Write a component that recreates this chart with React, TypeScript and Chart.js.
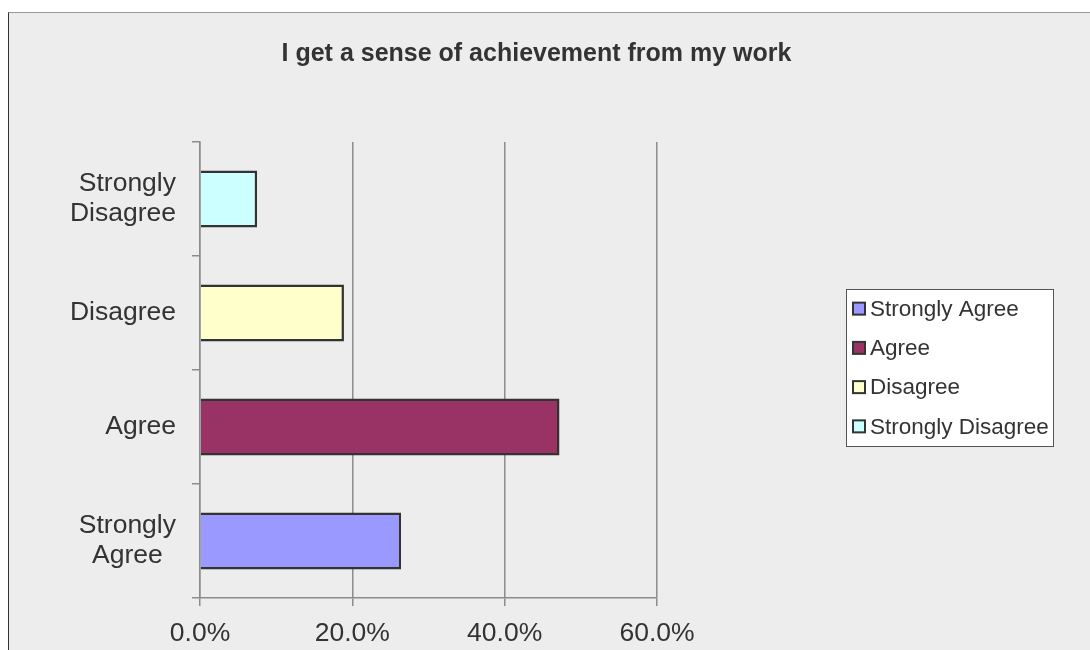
import React, { useEffect, useRef } from 'react';
import { Chart, registerables } from 'chart.js';

Chart.register(...registerables);

// ---- Data ----
const legendLabels = ['Strongly Agree', 'Agree', 'Disagree', 'Strongly Disagree'];
const axisLabels: (string | string[])[] = [['Strongly', 'Agree\u2002'], 'Agree', 'Disagree', ['Strongly', 'Disagree']];
const values = [26.4, 47.2, 18.9, 7.5];
const barColors = ['#9999FF', '#993366', '#FFFFCC', '#CCFFFF'];
const xMin = 0;
const xMax = 60;
const xStep = 20;
const titleText = 'I get a sense of achievement from my work';

const FONT = '"Liberation Sans", Arial, Helvetica, sans-serif';
const TEXT = '#333333';
const GRID = '#8c8c8c';

const boxLegend = {
  id: 'boxLegend',
  afterDraw(chart: any) {
    const ctx = chart.ctx as CanvasRenderingContext2D;
    const bx = 837, by = 276, bw = 207, bh = 157;
    ctx.save();
    ctx.fillStyle = '#ffffff';
    ctx.fillRect(bx, by, bw, bh);
    ctx.strokeStyle = '#555555';
    ctx.lineWidth = 1;
    ctx.strokeRect(bx + 0.5, by + 0.5, bw, bh);
    const rowH = bh / legendLabels.length;
    ctx.font = `22.5px ${FONT}`;
    ctx.textBaseline = 'middle';
    ctx.textAlign = 'left';
    legendLabels.forEach((label, i) => {
      const cy = by + rowH * (i + 0.5);
      ctx.fillStyle = barColors[i];
      ctx.fillRect(844, cy - 6, 12, 12);
      ctx.strokeStyle = '#333333';
      ctx.lineWidth = 2;
      ctx.strokeRect(844, cy - 6, 12, 12);
      ctx.fillStyle = TEXT;
      ctx.fillText(label, 861, cy + 1);
    });
    ctx.restore();
  },
};

export default function App() {
  const ref = useRef<HTMLCanvasElement | null>(null);

  useEffect(() => {
    if (!ref.current) return;
    const chart = new Chart(ref.current, {
      type: 'bar',
      data: {
        labels: axisLabels,
        datasets: [
          {
            label: 'Responses',
            data: values,
            backgroundColor: barColors,
            borderColor: '#333333',
            borderWidth: 2.5,
            barPercentage: 0.5,
            categoryPercentage: 1,
          },
        ],
      },
      options: {
        indexAxis: 'y',
        responsive: false,
        animation: false,
        devicePixelRatio: 1,
        layout: { padding: { left: 0, right: 26, top: 0, bottom: 0 } },
        plugins: {
          legend: { display: false },
          tooltip: { enabled: false },
          title: {
            display: true,
            text: titleText,
            color: TEXT,
            font: { family: FONT, size: 25, weight: 'bold', lineHeight: 1.2 },
            padding: { top: 26, bottom: 73 },
          },
        },
        scales: {
          x: {
            type: 'linear',
            min: xMin,
            max: xMax,
            position: 'bottom',
            ticks: {
              stepSize: xStep,
              color: TEXT,
              padding: 12,
              font: { family: FONT, size: 26.5 },
              callback: (v: any) => Number(v).toFixed(1) + '%',
            },
            grid: { color: GRID, lineWidth: 1.5, tickLength: 8, drawOnChartArea: true },
            border: { color: GRID, width: 1.5 },
            afterFit(s: any) {
              s.height = 52;
            },
          },
          y: {
            type: 'category',
            reverse: true,
            position: 'left',
            ticks: { color: TEXT, padding: 16, font: { family: FONT, size: 26.5, lineHeight: 1.13 } },
            grid: { color: GRID, lineWidth: 1.5, tickLength: 8, drawOnChartArea: false },
            border: { color: GRID, width: 1.5, z: 1 },
            afterFit(s: any) {
              s.width = 191;
            },
          },
          y2: {
            type: 'linear',
            position: 'right',
            display: true,
            grid: { display: false, drawTicks: false },
            border: { display: false },
            ticks: { display: false },
            afterFit(s: any) {
              s.width = 407;
            },
          },
        },
      },
      plugins: [boxLegend],
    });
    return () => chart.destroy();
  }, []);

  return (
    <div
      style={{
        position: 'fixed',
        left: 8,
        top: 12,
        width: 1100,
        height: 660,
        background: '#EDEDED',
        borderTop: '1px solid #999999',
        borderLeft: '1px solid #333333',
        overflow: 'hidden',
      }}
    >
      <canvas ref={ref} width={1081} height={637} style={{ display: 'block' }} />
    </div>
  );
}
